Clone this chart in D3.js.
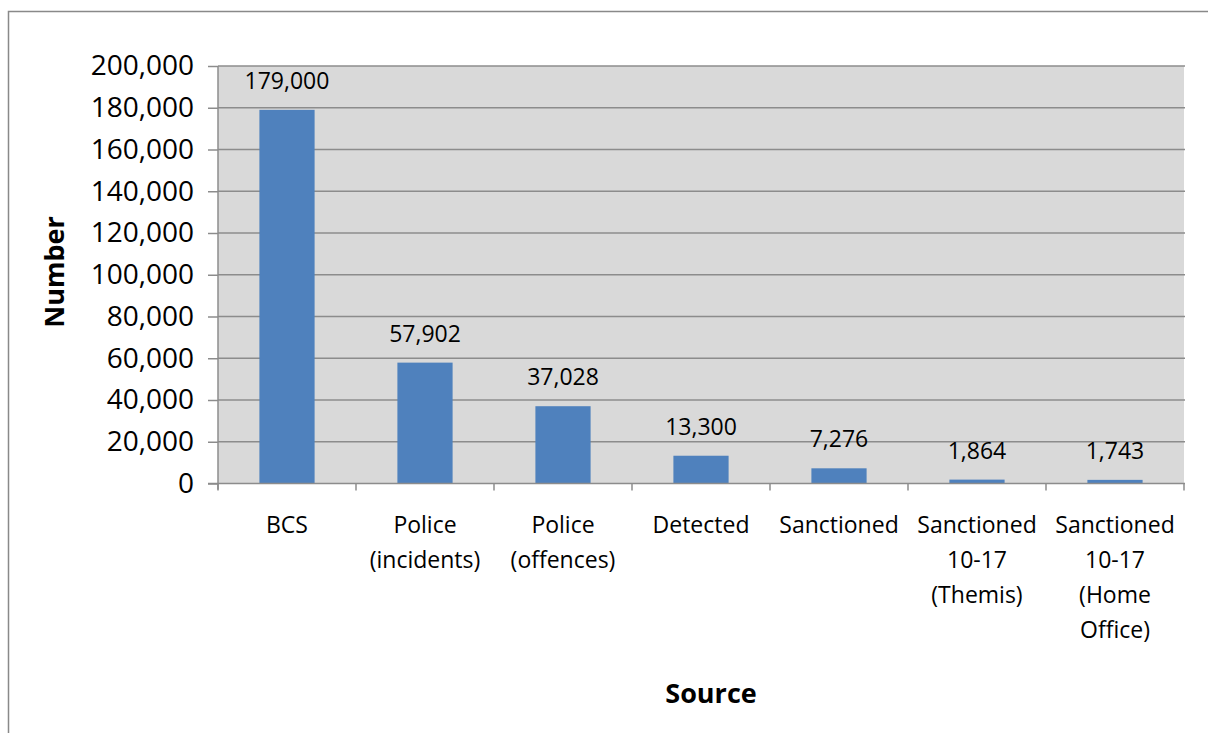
<!DOCTYPE html>
<html>
<head>
<meta charset="utf-8">
<script src="https://cdn.jsdelivr.net/npm/d3@7"></script>
<style>
  html, body { margin: 0; padding: 0; background: #fff; }
  svg { display: block; font-family: "Open Sans", sans-serif; }
</style>
</head>
<body>
<svg id="chart" width="1208" height="733"></svg>
<script>
const categories = ["BCS", "Police (incidents)", "Police (offences)", "Detected", "Sanctioned", "Sanctioned 10-17 (Themis)", "Sanctioned 10-17 (Home Office)"];
const values = [179000, 57902, 37028, 13300, 7276, 1864, 1743];
const yTicks = [0, 20000, 40000, 60000, 80000, 100000, 120000, 140000, 160000, 180000, 200000];
const yTitle = "Number";
const xTitle = "Source";

(function () {
const svg = d3.select("#chart");
const pLeft = 218, pRight = 1184, pTop = 66, pBottom = 483.5;

// outer chart border
svg.append("rect").attr("x", 8.5).attr("y", 11.5).attr("width", 1300).attr("height", 800)
  .attr("fill", "#fff").attr("stroke", "#898989").attr("stroke-width", 1.5);

const x = d3.scaleBand().domain(categories).range([pLeft, pRight]).paddingInner(0.6).paddingOuter(0.3);
const y = d3.scaleLinear().domain([0, 200000]).range([pBottom, pTop]);

// plot background
svg.append("rect").attr("x", pLeft).attr("y", pTop).attr("width", pRight - pLeft).attr("height", pBottom - pTop)
  .attr("fill", "#d9d9d9");

// gridlines
svg.append("g").selectAll("line").data(yTicks.filter(d => d > 0)).join("line")
  .attr("x1", pLeft).attr("x2", pRight + 1)
  .attr("y1", d => y(d)).attr("y2", d => y(d))
  .attr("stroke", "#8c8c8c").attr("stroke-width", 1.5);

// bars
svg.append("g").selectAll("rect").data(values).join("rect")
  .attr("x", (d, i) => x(categories[i]))
  .attr("width", x.bandwidth())
  .attr("y", d => y(d))
  .attr("height", d => y(0) - y(d))
  .attr("fill", "#4f81bd");

// data labels
svg.append("g").selectAll("text").data(values).join("text")
  .attr("x", (d, i) => x(categories[i]) + x.bandwidth() / 2)
  .attr("y", d => y(d) - 21)
  .attr("text-anchor", "middle")
  .attr("font-size", 23)
  .attr("fill", "#000")
  .text(d => d3.format(",")(d));

// y axis
const yAxis = d3.axisLeft(y).tickValues(yTicks).tickFormat(d3.format(",")).tickSize(10).tickPadding(14);
const gy = svg.append("g").attr("transform", `translate(${pLeft},0)`).call(yAxis);
gy.select(".domain").attr("stroke", "#8c8c8c").attr("stroke-width", 1.5).attr("d", `M0,${pTop}V${pBottom + 6}`);
gy.selectAll(".tick line").attr("stroke", "#8c8c8c").attr("stroke-width", 1.5);
gy.selectAll(".tick text").attr("font-size", 28).attr("fill", "#000")
  .attr("font-family", "Open Sans, sans-serif");

// x axis baseline
svg.append("line").attr("x1", pLeft - 10).attr("x2", pRight + 1).attr("y1", pBottom).attr("y2", pBottom)
  .attr("stroke", "#8c8c8c").attr("stroke-width", 1.5);

// category separators
svg.append("g").selectAll("line").data(d3.range(categories.length + 1)).join("line")
  .attr("x1", i => pLeft + i * x.step())
  .attr("x2", i => pLeft + i * x.step())
  .attr("y1", pBottom).attr("y2", pBottom + 7)
  .attr("stroke", "#8c8c8c").attr("stroke-width", 1.5);

// category labels
const cl = svg.append("g").selectAll("text").data(categories).join("text")
  .attr("text-anchor", "middle")
  .attr("font-size", 23)
  .attr("fill", "#000");
cl.each(function(d) {
  const t = d3.select(this);
  const cx = x(d) + x.bandwidth() / 2;
  d.split(" ").forEach((w, i) => {
    t.append("tspan").attr("x", cx).attr("y", 533 + i * 35).text(w);
  });
});

// axis titles
svg.append("text").attr("transform", "translate(64,272) rotate(-90)")
  .attr("text-anchor", "middle").attr("font-size", 27).attr("font-weight", "bold")
  .attr("fill", "#000").text(yTitle);
svg.append("text").attr("x", 711).attr("y", 703)
  .attr("text-anchor", "middle").attr("font-size", 27).attr("font-weight", "bold")
  .attr("fill", "#000").text(xTitle);
})();
</script>
</body>
</html>
